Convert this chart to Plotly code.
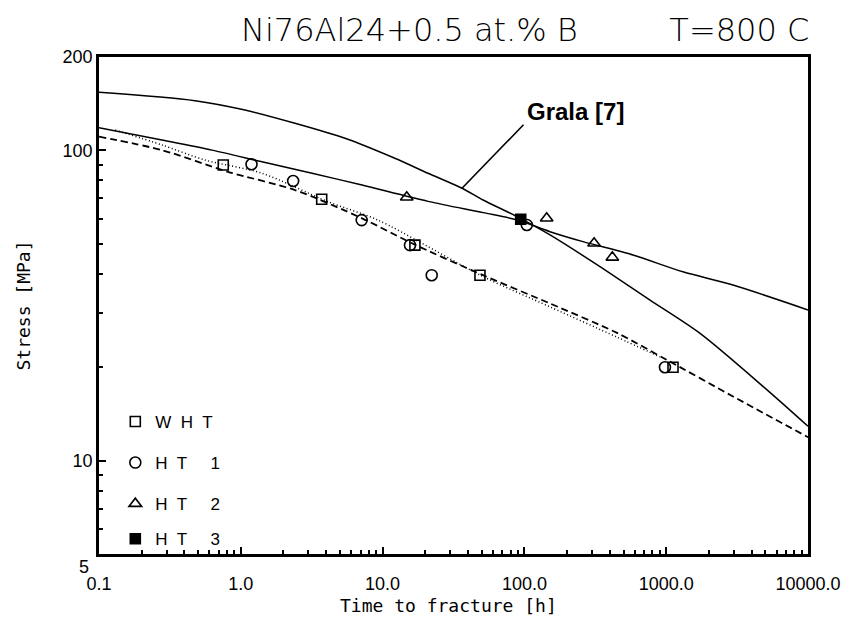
import math
import plotly.graph_objects as go

# ---------------- data ----------------
# Grala [7] curve
grala_t = [0.1, 0.475, 1.07, 2.41, 5.43, 12.2, 20.9, 36.3, 51.1, 93.1, 151.6, 341, 769, 1733, 5140, 10000]
grala_s = [153.9, 144.6, 134.9, 122.3, 109.4, 94.3, 84.4, 75.5, 69.2, 60.5, 53.4, 42.2, 32.9, 25.7, 16.9, 12.9]

# HT 2 fit (solid)
ht2fit_t = [0.1, 0.278, 0.627, 1.41, 3.18, 7.16, 20.9, 51.1, 88.7, 151.6, 259, 583, 1313, 2958, 10000]
ht2fit_s = [118.3, 108.0, 100.2, 91.9, 84.4, 77.3, 68.5, 63.0, 59.7, 54.7, 50.8, 46.0, 40.6, 36.8, 30.6]

# dashed fit
dash_t = [0.1, 0.278, 0.812, 2.41, 7.16, 16.1, 51.1, 151.6, 450, 1014, 2958, 10000]
dash_s = [110.7, 100.2, 85.3, 74.5, 60.4, 50.2, 39.6, 32.1, 25.8, 21.1, 16.1, 11.9]

# dotted fit
dot_t = [0.13, 0.278, 0.559, 1.41, 4.12, 9.28, 51.1, 151.6, 450, 904]
dot_s = [116.3, 104.1, 93.1, 84.4, 68.3, 59.6, 39.2, 31.3, 25.0, 21.6]

# measured points
wht_t = [0.752, 3.72, 16.9, 48.6, 1117]
wht_s = [89.7, 69.6, 49.5, 39.6, 20.0]
ht1_t = [1.19, 2.34, 7.12, 15.6, 22.2, 104, 980]
ht1_s = [90.2, 79.7, 59.6, 49.5, 39.6, 57.5, 20.0]
ht2_t = [14.8, 143.6, 310, 417]
ht2_s = [70.6, 60.4, 50.2, 45.2]
ht3_t = [94.2]
ht3_s = [60.0]

x_ticks = [0.1, 1, 10, 100, 1000, 10000]
x_labels = ["0.1", "1.0", "10.0", "100.0", "1000.0", "10000.0"]
y_ticks = [5, 10, 100, 200]
y_labels = ["", "10", "100", "200"]

grala_label_idx = 7

# ---------------- figure ----------------
BLACK = "black"
fig = go.Figure()

line_kw = dict(mode="lines", showlegend=False, hoverinfo="skip")
fig.add_trace(go.Scatter(x=grala_t, y=grala_s, line=dict(color=BLACK, width=1.5, shape="spline", smoothing=0.8), **line_kw))
fig.add_trace(go.Scatter(x=ht2fit_t, y=ht2fit_s, line=dict(color=BLACK, width=1.5, shape="spline", smoothing=0.8), **line_kw))
fig.add_trace(go.Scatter(x=dash_t, y=dash_s, line=dict(color=BLACK, width=1.8, dash="7px,4px", shape="spline", smoothing=0.8), **line_kw))
fig.add_trace(go.Scatter(x=dot_t, y=dot_s, line=dict(color=BLACK, width=1.5, dash="1px,2.5px", shape="spline", smoothing=0.8), **line_kw))

def pts(t, s, name, symbol, size, grp, legend="legend"):
    return go.Scatter(x=t, y=s, mode="markers", name=name, legendgroup=grp, legend=legend,
                      marker=dict(symbol=symbol, size=size, color=BLACK,
                                  line=dict(color=BLACK, width=1.6)))

fig.add_trace(pts(wht_t, wht_s, "W  H  T", "square-open", 10, "a"))
fig.add_trace(pts(ht1_t, ht1_s, "H  T     1", "circle-open", 11, "b"))
fig.add_trace(pts(ht2_t, ht2_s, "H  T     2", "triangle-up-open", 11, "c"))
fig.add_trace(pts(ht3_t, ht3_s, "H  T     3", "square", 10, "d", legend="legend2"))

minor_x = [m * 10 ** e for e in range(-1, 4) for m in range(2, 10)]
minor_y = [m * 10 ** e for e in range(0, 3) for m in range(2, 10) if 5 < m * 10 ** e < 200]

tick_font = dict(family="Liberation Sans Narrow, Liberation Sans, sans-serif", size=18, color=BLACK)
title_font = dict(family="DejaVu Sans Mono, monospace", size=18, color=BLACK)
legend_font = dict(family="Liberation Sans Narrow, Liberation Sans, sans-serif", size=17, color=BLACK)

fig.update_xaxes(type="log", range=[-1, 4], tickvals=x_ticks, ticktext=x_labels,
                 ticks="inside", ticklen=7, tickwidth=1.5, tickcolor=BLACK,
                 minor=dict(tickvals=minor_x, ticks="inside", ticklen=4, tickwidth=1.5, tickcolor=BLACK),
                 showline=True, linewidth=2.5, linecolor=BLACK, mirror=True, automargin=False,
                 showgrid=False, zeroline=False, tickfont=tick_font, ticklabelstandoff=12)
fig.update_yaxes(type="log", range=[math.log10(5), math.log10(200)], tickvals=y_ticks, ticktext=y_labels,
                 ticks="inside", ticklen=7, tickwidth=1.5, tickcolor=BLACK,
                 minor=dict(tickvals=minor_y, ticks="inside", ticklen=4, tickwidth=1.5, tickcolor=BLACK),
                 showline=True, linewidth=2.5, linecolor=BLACK, mirror=True, automargin=False,
                 showgrid=False, zeroline=False, tickfont=tick_font, ticklabelstandoff=0,
                 title=dict(text="Stress [MPa]", font=title_font, standoff=28))

# x-axis title as annotation (keeps it inside the visible window)
fig.add_annotation(x=0.493, y=0, xref="paper", yref="paper", text="Time to fracture [h]",
                   showarrow=False, xanchor="center", yanchor="middle", yshift=-51, font=title_font)

tip_x = math.log10(grala_t[grala_label_idx])
tip_y = math.log10(grala_s[grala_label_idx])
fig.add_annotation(x=tip_x, y=tip_y, xref="x", yref="y", text=" ", font=dict(size=1),
                   showarrow=True, arrowhead=0, arrowwidth=1.6, arrowcolor=BLACK,
                   ax=63, ay=-65, axref="pixel", ayref="pixel")
fig.add_annotation(x=tip_x, y=tip_y, xref="x", yref="y", text="Grala [7]",
                   showarrow=False, xanchor="left", yanchor="middle", xshift=63, yshift=77,
                   font=dict(family="Liberation Sans Narrow, Liberation Sans, sans-serif", size=24, color=BLACK, weight="bold"))
fig.add_annotation(x=0, y=math.log10(y_ticks[0]), xref="paper", yref="y", text="5",
                   showarrow=False, xanchor="right", yanchor="middle", xshift=-8, yshift=-13,
                   font=tick_font)

# the page body adds an 8 px offset; margins compensate for it
fig.update_layout(
    width=852, height=617,
    margin=dict(l=91, r=52, t=49, b=71, autoexpand=False),
    paper_bgcolor="white", plot_bgcolor="white",
    title=dict(text="Ni76Al24+0.5 at.% B         T=800 C", x=0.607, xanchor="center", y=0.965, yanchor="middle",
               automargin=False,
               font=dict(family="DejaVu Sans Light, DejaVu Sans ExtraLight, DejaVu Sans Condensed, DejaVu Sans, sans-serif",
                         size=32, color=BLACK, weight=200)),
    legend=dict(x=0.023, y=0.302, xanchor="left", yanchor="top", traceorder="grouped",
                tracegroupgap=16, bgcolor="rgba(0,0,0,0)", font=legend_font),
    legend2=dict(x=0.023, y=0.066, xanchor="left", yanchor="top",
                 bgcolor="rgba(0,0,0,0)", font=legend_font),
    showlegend=True,
)

fig.write_html("out.html")
